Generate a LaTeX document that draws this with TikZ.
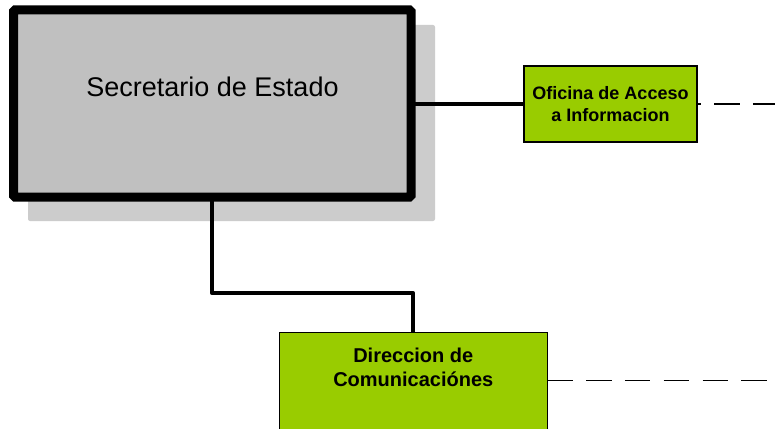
\documentclass[tikz,border=0pt]{standalone}
\usepackage{fontspec}
\setmainfont{Liberation Sans}
\definecolor{boxgray}{HTML}{C0C0C0}
\definecolor{shadowgray}{HTML}{CCCCCC}
\definecolor{leafgreen}{HTML}{99CC00}
\begin{document}
\begin{tikzpicture}[x=1pt,y=-1pt,
  mainbox/.style={draw=black, line width=9pt, fill=boxgray, rounded corners=1.5pt, outer sep=0pt, inner sep=0pt},
  shadowbox/.style={fill=shadowgray, rounded corners=2pt},
  greenbox/.style={draw=black, line width=1.5pt, fill=leafgreen, outer sep=0pt, inner sep=0pt, align=center},
  link/.style={draw=black, line width=4pt},
  dashline/.style={draw=black, line width=1.5pt, dash pattern=on 25.5pt off 13.3pt},
  bigtxt/.style={font=\fontsize{27}{32}\selectfont, inner sep=0pt},
  midtxt/.style={font=\fontsize{18}{21.7}\selectfont\bfseries, align=center},
  dirfont/.style={font=\fontsize{20}{24}\selectfont\bfseries, align=center, inner sep=0pt}
]
\clip (0,0) rectangle (775,428);
\fill[white] (0,0) rectangle (775,428);
% shadow
\fill[shadowbox] (28,25) rectangle (435,221);
% connectors under boxes
\node[mainbox, minimum width=397.5pt, minimum height=187pt] (sec) at (212.25,103.5) {};
\node[bigtxt] (sectxt) at (212.5,87) {Secretario de Estado};
\node[greenbox, midtxt, minimum width=173pt, minimum height=76pt] (ofi) at (610.5,104) {Oficina de Acceso\\a Informacion};
\node[greenbox, minimum width=268pt, minimum height=110pt, anchor=north] (dir) at (413.3,332.7) {};
\node[dirfont] (dirtxt) at (413.3,367) {Direccion de\\Comunicaciónes};
\coordinate (oend) at (780,104);
\coordinate (dend) at (767,380.7);
% solid connectors
\draw[link] (sec.east |- ofi.west) -- (ofi.west);
\draw[link, line join=round] (sec.south) -- (sec.south |- 0,293.3) -| (dir.north);
% dashed leads
\draw[dashline, dash phase=21.7pt] (ofi.east) -- (oend);
\draw[dashline] ([yshift=-48pt]dir.north east) -- (dend);
\end{tikzpicture}
\end{document}
